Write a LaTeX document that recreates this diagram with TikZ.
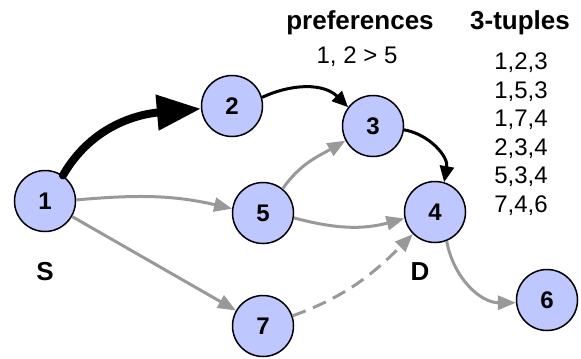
\documentclass[tikz,border=0pt]{standalone}
\usepackage{fontspec}
\setmainfont{Liberation Sans}
\usepackage{tikz}
\usetikzlibrary{arrows.meta,positioning,calc}

\definecolor{nodeblue}{RGB}{191,199,255}
\definecolor{altgray}{RGB}{153,153,153}

\begin{document}
\begin{tikzpicture}[x=0.5pt,y=-0.5pt,
  router/.style={circle,draw,line width=0.75pt,fill=nodeblue,minimum size=30.5pt,inner sep=0pt,font=\fontsize{12}{14}\selectfont\bfseries},
  bestpath/.style={line width=1.5pt,-{Triangle[length=8pt,width=7pt]}},
  altpath/.style={altgray,line width=1.5pt,-{Triangle[length=9pt,width=7pt]}},
  txt/.style={font=\fontsize{12}{14}\selectfont},
  hdr/.style={font=\fontsize{13}{15}\selectfont\bfseries}]

\useasboundingbox (0,0) rectangle (581,358);

% routers
\node[router] (n1) at (45,201) {1};
\node[router] (n2) at (232,106) {2};
\node[router] (n3) at (373,126) {3};
\node[router] (n4) at (435,212) {4};
\node[router] (n5) at (263,213) {5};
\node[router] (n6) at (547,300) {6};
\node[router] (n7) at (263,326) {7};

% source and destination
\node[hdr] (labelS) at (45,272) {S};
\node[hdr] (labelD) at (420,272) {D};

% preferences and tuples
\node[hdr] (prefTitle) at (360,23) {preferences};
\node[txt] (prefText) at (357,57) {1, 2 > 5};
\node[hdr] (tupleTitle) at (520,23) {3-tuples};
\node[font=\fontsize{12}{14.25}\selectfont,align=center] (tupleList) at (521,134)
  {1,2,3\\1,5,3\\1,7,4\\2,3,4\\5,3,4\\7,4,6};

% chosen path
\draw[line width=4pt,line cap=round,-{Triangle[length=22pt,width=17pt]}]
  (n1.55) to[out=60,in=185] (n2.185);
\draw[bestpath] (n2.16) to[out=25,in=135] (n3.143);
\draw[bestpath] (n3.-7) to[out=-10,in=80] (n4.73);

% other paths
\draw[altpath] (n1.2) to[out=5,in=167] (n5.172);
\draw[altpath] (n1) -- (n7);
\draw[altpath] (n5.51) to[out=55,in=210] (n3.208);
\draw[altpath] (n5.-9) to[out=-15,in=195] (n4.192);
\draw[altpath,dash pattern=on 7pt off 4pt] (n7.19) to[out=20,in=225] (n4.225);
\draw[altpath] (n4.-68) to[out=-80,in=180] (n6.185);

\end{tikzpicture}
\end{document}
